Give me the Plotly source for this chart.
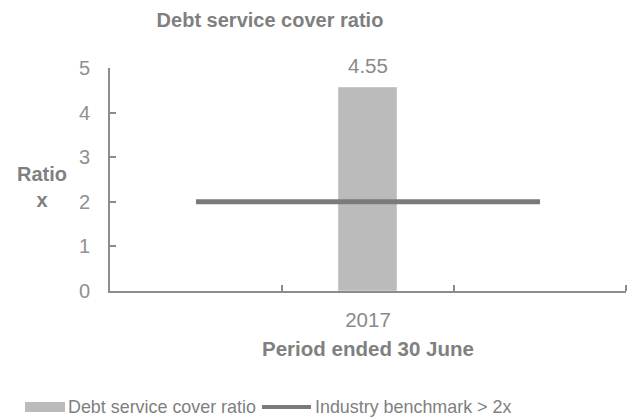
import plotly.graph_objects as go

# Data
periods = ["", "2017", ""]           # category slots; only the middle one is labelled
ratio_values = [None, 4.55, None]    # debt service cover ratio
benchmark_values = [2, 2, 2]         # industry benchmark
ratio_name = "Debt service cover ratio"
benchmark_name = "Industry benchmark > 2x"
y_ticks = [0, 1, 2, 3, 4, 5]

FONT = "Liberation Sans, Arial, sans-serif"
TEXT = "#808080"
BAR = "#BBBBBB"
LINE = "#7A7A7A"

xs = list(range(len(periods)))
labelled = [i for i, p in enumerate(periods) if p]

fig = go.Figure()
fig.add_trace(go.Bar(
    x=xs, y=ratio_values, name=ratio_name, width=0.337,
    marker=dict(color=BAR, line=dict(color="#C9C9C9", width=1)),
    showlegend=False,
))
fig.add_trace(go.Scatter(
    x=xs, y=benchmark_values, name=benchmark_name, mode="lines",
    line=dict(color=LINE, width=5), showlegend=False,
))

# value label above the bar
for i, v in enumerate(ratio_values):
    if v is not None:
        fig.add_annotation(x=xs[i], y=v, text=f"{v:.2f}", showarrow=False,
                           yanchor="bottom", yshift=9,
                           font=dict(family=FONT, size=20.5, color="#8A8A8A"))

# y-axis title, written horizontally on two lines
fig.add_annotation(xref="paper", yref="paper", x=-0.131, y=0.465,
                   text="<b>Ratio<br>x</b>", showarrow=False,
                   xanchor="center", yanchor="middle", align="center",
                   font=dict(family=FONT, size=20, color=TEXT))

# legend drawn below the plot
fig.add_shape(type="rect", xref="paper", yref="paper",
              x0=(25 - 110) / 516, x1=(65 - 110) / 516,
              y0=-(402 - 291) / 223, y1=-(412 - 291) / 223,
              fillcolor=BAR, line=dict(width=0))
fig.add_annotation(xref="paper", yref="paper", x=(66 - 110) / 516,
                   y=-(407 - 291) / 223, text=ratio_name, showarrow=False,
                   xanchor="left", yanchor="middle",
                   font=dict(family=FONT, size=17.9, color=TEXT))
fig.add_shape(type="line", xref="paper", yref="paper",
              x0=(262 - 110) / 516, x1=(311 - 110) / 516,
              y0=-(407 - 291) / 223, y1=-(407 - 291) / 223,
              line=dict(color=LINE, width=4))
fig.add_annotation(xref="paper", yref="paper", x=(313 - 110) / 516,
                   y=-(407 - 291) / 223, text=benchmark_name, showarrow=False,
                   xanchor="left", yanchor="middle",
                   font=dict(family=FONT, size=17.9, color=TEXT))

fig.update_layout(
    width=630, height=417,
    margin=dict(l=110, r=4, t=68, b=126),
    paper_bgcolor="white", plot_bgcolor="white",
    font=dict(family=FONT, color=TEXT),
    title=dict(text="<b>Debt service cover ratio</b>", x=270 / 630, xanchor="center",
               y=1 - 20 / 417, yanchor="middle",
               font=dict(family=FONT, size=20, color="#7F7F7F")),
    bargap=0,
)
fig.update_xaxes(
    range=[-0.5, len(periods) - 0.5],
    tickvals=labelled, ticktext=[periods[i] for i in labelled],
    ticks="", showgrid=False, zeroline=False,
    showline=True, linecolor="#8C8C8C", linewidth=2,
    tickfont=dict(family=FONT, size=20.5, color="#8A8A8A"),
    ticklabelstandoff=9,
    minor=dict(tickvals=[i + 0.5 for i in xs], ticks="inside", ticklen=6,
               tickcolor="#8C8C8C", tickwidth=2, showgrid=False),
    title=dict(text="<b>Period ended 30 June</b>", standoff=12,
               font=dict(family=FONT, size=20.5, color=TEXT)),
)
fig.update_yaxes(
    range=[0, 5], tickvals=y_ticks,
    ticks="inside", ticklen=6, tickcolor="#8C8C8C", tickwidth=2,
    showgrid=False, zeroline=False,
    showline=True, linecolor="#8C8C8C", linewidth=2,
    tickfont=dict(family=FONT, size=20, color="#909090"),
    ticklabelstandoff=14,
)

fig.write_html("out.html")
